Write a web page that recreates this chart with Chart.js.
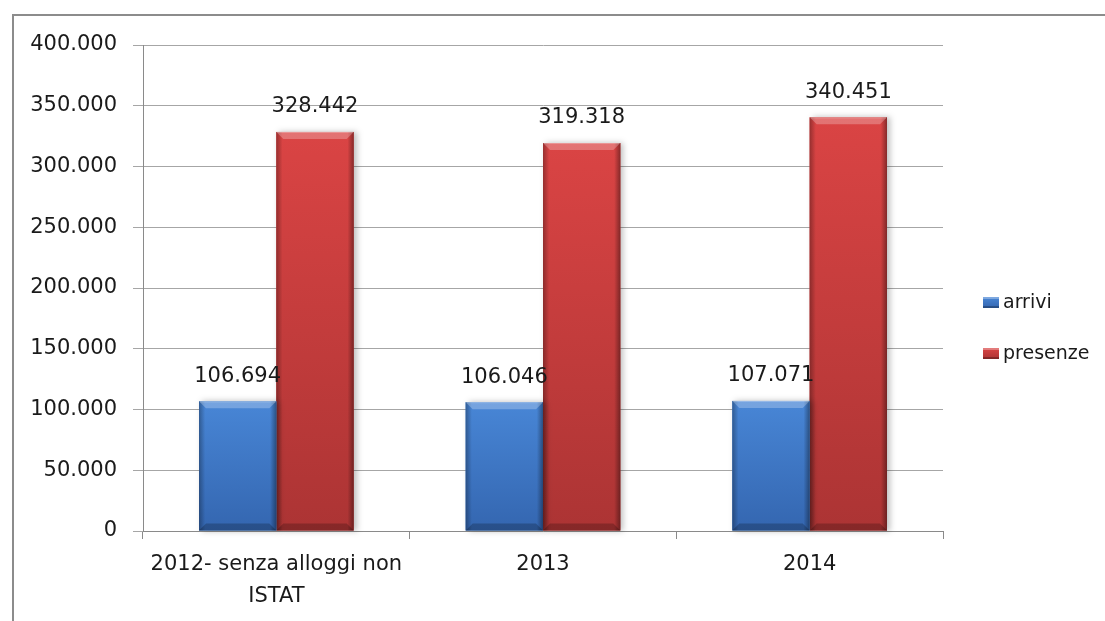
<!DOCTYPE html>
<html>
<head>
<meta charset="utf-8">
<script src="https://cdn.jsdelivr.net/npm/chart.js@4"></script>
<style>
  html, body { margin: 0; padding: 0; background: #fff; overflow: hidden; }
  #frame { position: absolute; left: 12px; top: 14px; width: 1200px; height: 700px; border: 2px solid #8c8c8c; box-sizing: border-box; }
  #wrap { position: absolute; left: 0; top: 0; width: 1105px; height: 621px; }
</style>
</head>
<body>
<div id="frame"></div>
<div id="wrap"><canvas id="chart" width="1105" height="621"></canvas></div>
<script>
// Data
const categories = [['2012- senza alloggi non', 'ISTAT'], '2013', '2014'];
const arrivi = [106694, 106046, 107071];
const presenze = [328442, 319318, 340451];
const seriesNames = ['arrivi', 'presenze'];
const yTicks = [0, 50000, 100000, 150000, 200000, 250000, 300000, 350000, 400000];

const FONT = 'DejaVu Sans';
const TEXT = '#1a1a1a';

// Italian thousands separator
function fmt(v) {
  return String(Math.round(v)).replace(/\B(?=(\d{3})+(?!\d))/g, '.');
}

// bar palette: [top, bottom]
const shades = {
  arrivi: ['#4886d6', '#3466b0'],
  presenze: ['#da4444', '#ac3434']
};

// Bevel / gradient look on top of library bars
const bevelPlugin = {
  id: 'bevel',
  afterDatasetDraw(chart, args) {
    const ctx = chart.ctx;
    const ds = chart.data.datasets[args.index];
    const pal = shades[ds.label];
    args.meta.data.forEach(el => {
      const l = el.x - el.width / 2, r = el.x + el.width / 2;
      const t = el.y, b = el.base, w = r - l;
      ctx.save();
      // soft shadow to the right
      ctx.shadowColor = 'rgba(0,0,0,0.25)';
      ctx.shadowBlur = 6;
      ctx.shadowOffsetX = 3;
      let g = ctx.createLinearGradient(0, t, 0, b);
      g.addColorStop(0, pal[0]);
      g.addColorStop(1, pal[1]);
      ctx.fillStyle = g;
      ctx.fillRect(l, t, w, b - t);
      ctx.shadowColor = 'transparent';
      // side shading
      g = ctx.createLinearGradient(l, 0, r, 0);
      g.addColorStop(0, 'rgba(0,0,0,0.30)');
      g.addColorStop(0.08, 'rgba(0,0,0,0.0)');
      g.addColorStop(0.92, 'rgba(0,0,0,0.0)');
      g.addColorStop(1, 'rgba(0,0,0,0.38)');
      ctx.fillStyle = g;
      ctx.fillRect(l, t, w, b - t);
      // top highlight
      const e = 7;
      ctx.beginPath();
      ctx.moveTo(l, t); ctx.lineTo(r, t); ctx.lineTo(r - e, t + e); ctx.lineTo(l + e, t + e); ctx.closePath();
      ctx.fillStyle = 'rgba(255,255,255,0.25)';
      ctx.fill();
      ctx.fillStyle = 'rgba(255,255,255,0.25)';
      ctx.fillRect(l + 1, t, w - 2, 1);
      // bottom dark strip
      ctx.beginPath();
      ctx.moveTo(l, b); ctx.lineTo(r, b); ctx.lineTo(r - e, b - e); ctx.lineTo(l + e, b - e); ctx.closePath();
      ctx.fillStyle = 'rgba(0,0,0,0.22)';
      ctx.fill();
      ctx.restore();
    });
  }
};

// Value labels above bars
const valueLabels = {
  id: 'valueLabels',
  afterDatasetsDraw(chart) {
    const ctx = chart.ctx;
    ctx.save();
    ctx.font = '21px "' + FONT + '"';
    ctx.fillStyle = TEXT;
    ctx.textAlign = 'center';
    ctx.textBaseline = 'middle';
    chart.data.datasets.forEach((ds, i) => {
      chart.getDatasetMeta(i).data.forEach((el, j) => {
        ctx.fillText(fmt(ds.data[j]), el.x, el.y - 25);
      });
    });
    ctx.restore();
  }
};

// Legend on the right, Excel style
const sideLegend = {
  id: 'sideLegend',
  afterDraw(chart) {
    const ctx = chart.ctx;
    ctx.save();
    ctx.font = '19px "' + FONT + '"';
    ctx.textBaseline = 'alphabetic';
    ctx.textAlign = 'left';
    const base = [308, 359];
    chart.data.datasets.forEach((ds, i) => {
      const pal = shades[ds.label];
      const y = base[i];
      let g = ctx.createLinearGradient(0, y - 11, 0, y);
      g.addColorStop(0, pal[0]);
      g.addColorStop(1, pal[1]);
      ctx.fillStyle = g;
      ctx.fillRect(983, y - 11, 16, 11);
      ctx.fillStyle = 'rgba(255,255,255,0.3)';
      ctx.fillRect(983, y - 11, 16, 2);
      ctx.fillStyle = 'rgba(0,0,0,0.25)';
      ctx.fillRect(983, y - 2, 16, 2);
      ctx.fillStyle = TEXT;
      ctx.fillText(ds.label, 1003, y);
    });
    ctx.restore();
  }
};

new Chart(document.getElementById('chart').getContext('2d'), {
  type: 'bar',
  data: {
    labels: categories,
    datasets: [
      { label: seriesNames[0], data: arrivi, backgroundColor: shades.arrivi[0], categoryPercentage: 0.58, barPercentage: 1 },
      { label: seriesNames[1], data: presenze, backgroundColor: shades.presenze[0], categoryPercentage: 0.58, barPercentage: 1 }
    ]
  },
  options: {
    responsive: false,
    animation: false,
    layout: { padding: { left: 0, top: 45, right: 162, bottom: 0 } },
    plugins: {
      legend: { display: false },
      tooltip: { enabled: false }
    },
    scales: {
      x: {
        afterFit: s => { s.height = 90; },
        grid: { drawOnChartArea: false, drawTicks: true, tickLength: 8, color: '#8a8a8a' },
        border: { color: '#8a8a8a', width: 1 },
        ticks: { color: TEXT, font: { family: FONT, size: 21, lineHeight: 1.52 }, padding: 10, maxRotation: 0 }
      },
      y: {
        min: 0,
        max: 400000,
        afterFit: s => { s.width = 143; },
        afterBuildTicks: s => { s.ticks = yTicks.map(v => ({ value: v })); },
        grid: { color: '#a6a6a6', tickLength: 10 },
        border: { color: '#8a8a8a', width: 1 },
        ticks: { color: TEXT, font: { family: FONT, size: 21 }, padding: 16, callback: v => fmt(v) }
      }
    }
  },
  plugins: [bevelPlugin, valueLabels, sideLegend]
});
</script>
</body>
</html>
